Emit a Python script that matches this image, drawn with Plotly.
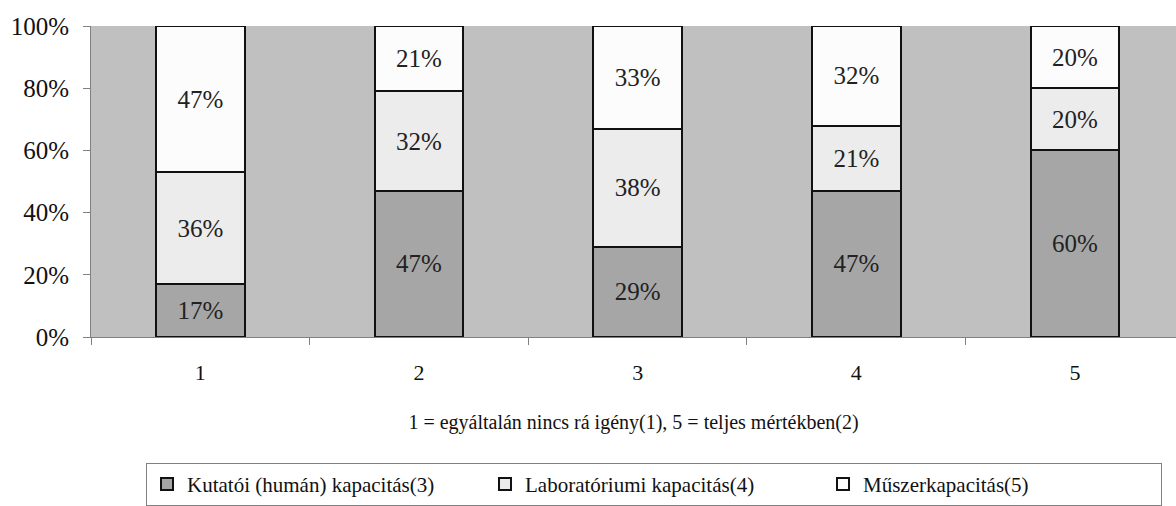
import plotly.graph_objects as go

categories = ["1", "2", "3", "4", "5"]
kutatoi = [17, 47, 29, 47, 60]
laboratoriumi = [36, 32, 38, 21, 20]
muszer = [47, 21, 33, 32, 20]
series_names = ["Kutatói (humán) kapacitás(3)", "Laboratóriumi kapacitás(4)", "Műszerkapacitás(5)"]
y_ticks = [0, 20, 40, 60, 80, 100]
y_tick_labels = ["0%", "20%", "40%", "60%", "80%", "100%"]
x_title = "1 = egyáltalán nincs rá igény(1), 5 = teljes mértékben(2)"

colors = ["#a6a6a6", "#ececec", "#fcfcfc"]
FONT = "Liberation Serif"

fig = go.Figure()
for name, vals, col in zip(series_names, [kutatoi, laboratoriumi, muszer], colors):
    fig.add_trace(go.Bar(
        x=categories, y=vals, name=name,
        marker=dict(color=col, line=dict(color="#111111", width=2)),
        width=0.405,
        text=[f"{v}%" for v in vals],
        textposition="inside", insidetextanchor="middle",
        textfont=dict(family=FONT, size=25, color="#222222"),
        textangle=0,
        hoverinfo="skip",
    ))

fig.update_layout(
    barmode="stack",
    width=1176, height=506,
    margin=dict(l=91, r=0, t=26, b=167),
    paper_bgcolor="white",
    plot_bgcolor="#c0c0c0",
    font=dict(family=FONT, color="#111111"),
    showlegend=True,
    uniformtext=dict(minsize=25, mode="show"),
    legend=dict(
        orientation="h",
        x=0.0507, xanchor="left",
        y=-0.405, yanchor="top",
        bordercolor="#808080", borderwidth=1,
        font=dict(family=FONT, size=21, color="#111111"),
        entrywidth=293, entrywidthmode="pixels",
        traceorder="normal",
    ),
    xaxis=dict(
        type="category",
        range=[-0.5, 4.462],
        automargin=False,
        showline=True, linecolor="#808080", linewidth=1,
        ticks="outside", tickson="boundaries", ticklen=7, tickcolor="#808080",
        tickfont=dict(family=FONT, size=22, color="#111111"),
        ticklabelstandoff=16,
        showgrid=False, zeroline=False,
        title=dict(text=x_title, font=dict(family=FONT, size=20, color="#111111"), standoff=30),
    ),
    yaxis=dict(
        range=[0, 100],
        automargin=False,
        tickvals=y_ticks, ticktext=y_tick_labels,
        showline=True, linecolor="#808080", linewidth=1,
        ticks="outside", ticklen=7, tickcolor="#808080",
        tickfont=dict(family=FONT, size=25, color="#111111"),
        ticklabelstandoff=9,
        showgrid=False, zeroline=False,
    ),
)

fig.write_html(
    "out.html",
    config={"displayModeBar": False},
    post_script="document.body.style.margin='0';document.body.style.padding='0';",
)
